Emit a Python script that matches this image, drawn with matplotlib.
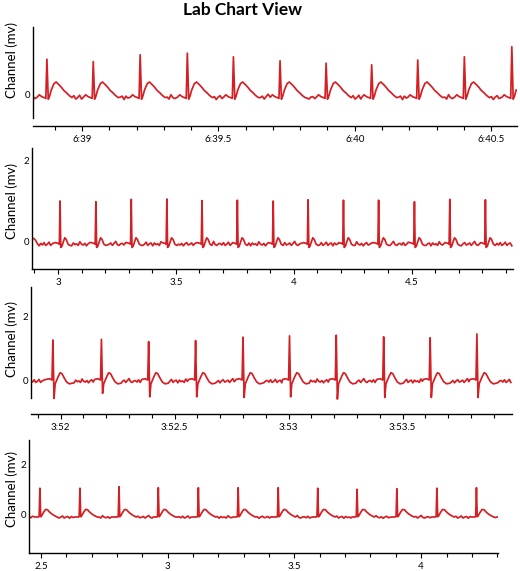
import numpy as np
import matplotlib.pyplot as plt
from matplotlib.ticker import MultipleLocator, FixedLocator, FuncFormatter

plt.rcParams['font.family'] = ['Lato', 'DejaVu Sans']

RED = '#d41f25'

# --- panel 1 (time in seconds, 6:38.8 .. 6:40.6) ---
p1_beats = [398.871, 399.041, 399.213, 399.386, 399.555, 399.726,
            399.895, 400.062, 400.231, 400.402, 400.576]
p1_r = [0.87, 0.81, 0.98, 1.02, 0.93, 0.83, 0.77, 0.73, 0.85, 0.93, 1.18]
p1_wave_dt = [-0.036, -0.028, -0.018, -0.010, -0.004, 0.0, 0.005, 0.010,
              0.016, 0.026, 0.034, 0.040, 0.046, 0.054, 0.062, 0.072, 0.082, 0.092]
p1_wave_v = [-0.08, -0.02, -0.07, -0.09, -0.11, 'R', -0.13, -0.05,
             0.10, 0.26, 0.30, 0.26, 0.22, 0.16, 0.09, 0.03, -0.04, -0.09]
p1_base = -0.09

# --- panel 2 (seconds 2.9 .. 4.9) ---
p2_beats = [3.009, 3.161, 3.311, 3.462, 3.611, 3.761, 3.913,
            4.061, 4.211, 4.360, 4.512, 4.662, 4.813]
p2_r = [1.00, 0.98, 1.04, 1.05, 1.01, 1.02, 1.00, 1.03, 1.02, 1.02, 0.98, 1.04, 1.03]
p2_wave_dt = [-0.020, -0.008, -0.003, 0.0, 0.003, 0.008, 0.014, 0.020, 0.026, 0.034, 0.042]
p2_wave_v = [-0.04, -0.06, -0.08, 'R', -0.16, -0.13, -0.02, 0.08, 0.04, -0.08, -0.11]
p2_base = -0.08
p2_lead_t = [2.891, 2.898, 2.905, 2.912, 2.920]
p2_lead_v = [0.07, 0.06, 0.02, -0.06, -0.12]

# --- panel 3 (time in seconds, 3:51.9 .. 3:54) ---
p3_beats = [231.966, 232.179, 232.386, 232.592, 232.800,
            233.004, 233.209, 233.417, 233.621, 233.826]
p3_r = [1.26, 1.28, 1.21, 1.24, 1.35, 1.39, 1.41, 1.36, 1.33, 1.45]
p3_s = [-0.58, -0.42, -0.53, -0.53, -0.55, -0.53, -0.60, -0.55, -0.55, -0.55]
p3_wave_dt = [-0.030, -0.015, -0.004, 0.0, 0.005, 0.010, 0.016, 0.024,
              0.032, 0.040, 0.050, 0.060, 0.072, 0.086]
p3_wave_v = [0.02, 0.04, 0.0, 'R', 'S', -0.12, -0.02, 0.12, 0.23, 0.20, 0.06, -0.06, -0.12, -0.10]
p3_base = -0.04

# --- panel 4 (seconds 2.45 .. 4.3) ---
p4_beats = [2.496, 2.654, 2.808, 2.963, 3.121, 3.278,
            3.436, 3.592, 3.747, 3.904, 4.062, 4.218]
p4_r = [1.07, 1.07, 1.13, 1.09, 1.09, 1.09, 1.09, 1.07, 1.03, 1.05, 1.07, 1.09]
p4_wave_dt = [-0.020, -0.006, -0.003, 0.0, 0.003, 0.007, 0.014, 0.022, 0.030,
              0.038, 0.046, 0.056, 0.068]
p4_wave_v = [-0.08, -0.08, -0.06, 'R', -0.07, -0.03, 0.10, 0.22, 0.21, 0.12, 0.05, -0.02, -0.08]
p4_base = -0.09

# baseline jitter
wiggle = [0.02, -0.02, 0.04, -0.03, 0.00, 0.05, -0.03, 0.01, 0.03, -0.04,
          0.03, -0.01, 0.01, -0.03, 0.06, 0.00, -0.02, 0.02, -0.04, 0.01,
          0.04, -0.02, 0.00, 0.03, -0.03, 0.02, 0.07, -0.01, -0.03, 0.01]


def build_trace(beats, r_amp, wave_dt, wave_v, base, t0, t1, s_amp=None,
                scale=1.0, step=0.007, lead_t=(), lead_v=()):
    ts, vs = list(lead_t), list(lead_v)
    k = 0
    prev_end = ts[-1] if ts else t0 - step
    for i, b in enumerate(list(beats) + [None]):
        start = b + wave_dt[0] if b is not None else t1 + step
        for t in np.arange(prev_end + step, start - step / 2, step):
            ts.append(t)
            vs.append(base + scale * wiggle[k % len(wiggle)])
            k += 1
        if b is None:
            break
        for dt, v in zip(wave_dt, wave_v):
            if v == 'R':
                v = r_amp[i]
            elif v == 'S':
                v = s_amp[i]
            ts.append(b + dt)
            vs.append(v)
        prev_end = b + wave_dt[-1]
    ts = np.array(ts)
    vs = np.array(vs)
    keep = (ts >= t0) & (ts <= t1)
    return ts[keep], vs[keep]


def mmss(x, pos):
    sec = round(x % 60, 1)
    return f"{int(x // 60)}:{sec:g}"


def plain(x, pos):
    return f"{round(x, 1):g}"


W, H = 520, 571
fig = plt.figure(figsize=(W / 100, H / 100), dpi=100)

# box = (x0, x1, ytop, ybottom) in pixels
panels = [
    dict(box=(33, 517, 27, 126), ylim=(-0.80, 1.675), spine=(-0.6, 1.675),
         xlim=(398.82, 400.595), yticks=[0], fmt=mmss, ylab_y=60,
         data=build_trace(p1_beats, p1_r, p1_wave_dt, p1_wave_v, p1_base,
                          398.82, 400.595, scale=1.2)),
    dict(box=(32, 513, 148, 269), ylim=(-0.70, 2.325), spine=(-0.70, 2.325),
         xlim=(2.89, 4.93), yticks=[0, 2], fmt=plain, ylab_y=201,
         data=build_trace(p2_beats, p2_r, p2_wave_dt, p2_wave_v, p2_base,
                          2.89, 4.93, scale=1.0, lead_t=p2_lead_t, lead_v=p2_lead_v)),
    dict(box=(31, 512, 287, 414), ylim=(-1.07, 2.93), spine=(-0.57, 2.93),
         xlim=(231.87, 233.98), yticks=[0, 2], fmt=mmss, ylab_y=339,
         data=build_trace(p3_beats, p3_r, p3_wave_dt, p3_wave_v, p3_base,
                          231.87, 233.98, s_amp=p3_s, scale=1.2)),
    dict(box=(29, 498, 440, 553), ylim=(-1.52, 3.0), spine=(-1.52, 3.0),
         xlim=(2.453, 4.303), yticks=[0, 2], fmt=plain, ylab_y=489,
         data=build_trace(p4_beats, p4_r, p4_wave_dt, p4_wave_v, p4_base,
                          2.453, 4.303, scale=1.0)),
]

for p in panels:
    x0, x1, yt, yb = p['box']
    ax = fig.add_axes([x0 / W, 1 - yb / H, (x1 - x0) / W, (yb - yt) / H])
    t, v = p['data']
    ax.plot(t, v, color=RED, lw=1.25, solid_joinstyle='round')
    ax.set_xlim(*p['xlim'])
    ax.set_ylim(*p['ylim'])
    ax.patch.set_visible(False)
    for side in ('top', 'right'):
        ax.spines[side].set_visible(False)
    for side in ('left', 'bottom'):
        ax.spines[side].set_linewidth(1.0)
    ax.spines['left'].set_bounds(*p['spine'])
    ax.xaxis.set_major_locator(MultipleLocator(0.5))
    ax.xaxis.set_minor_locator(MultipleLocator(0.1))
    ax.xaxis.set_major_formatter(FuncFormatter(p['fmt']))
    ax.tick_params(axis='x', which='major', length=3.5, width=0.8, labelsize=7, pad=3)
    ax.tick_params(axis='x', which='minor', length=3, width=0.8)
    ax.yaxis.set_major_locator(FixedLocator(p['yticks']))
    ax.tick_params(axis='y', length=0, labelsize=7, pad=2)
    fig.text(12 / W, 1 - p['ylab_y'] / H, 'Channel (mv)', rotation=90,
             ha='center', va='center', fontsize=9.5)

fig.text(243 / W, 1 - 10 / H, 'Lab Chart View', ha='center', va='center',
         fontsize=12.5, fontweight='bold')

fig.savefig('out.png', dpi=100)
